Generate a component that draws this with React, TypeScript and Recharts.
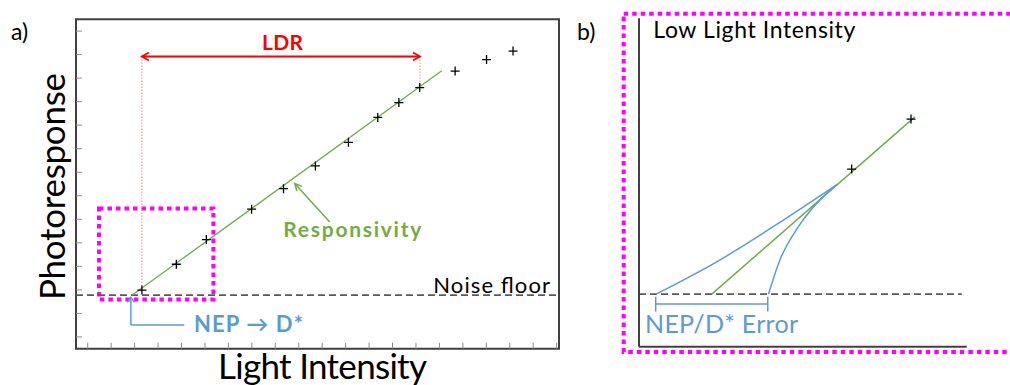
import { ComposedChart, Line, ReferenceArea, ReferenceLine, Scatter, XAxis, YAxis } from "recharts";

// panel a: unit = one tick step
const xTicksA = [0.5, 1.5, 2.5, 3.5, 4.5, 5.5, 6.5, 7.5, 8.5, 9.5, 10.5, 11.5, 12.5, 13.5, 14.5, 15.5, 16.5, 17.5, 18.5, 19.5, 20.5];
const yTicksA = [0.5, 1.5, 2.5, 3.5, 4.5, 5.5, 6.5, 7.5, 8.5, 9.5, 10.5, 11.5, 12.5, 13.5];

const measuredA = [
  { x: 2.81, y: 2.49 },
  { x: 4.28, y: 3.59 },
  { x: 5.56, y: 4.64 },
  { x: 7.49, y: 5.93 },
  { x: 8.85, y: 6.8 },
  { x: 10.21, y: 7.77 },
  { x: 11.62, y: 8.77 },
  { x: 12.87, y: 9.83 },
  { x: 13.77, y: 10.46 },
  { x: 14.66, y: 11.1 },
  { x: 16.17, y: 11.8 },
  { x: 17.51, y: 12.29 },
  { x: 18.64, y: 12.65 },
];
const responsivityA = [{ x: 2.4, y: 2.28 }, { x: 15.6, y: 11.81 }];
const noiseFloorA = 2.28;
const ldrA = [{ x: 2.81, y: 12.42 }, { x: 14.67, y: 12.42 }];
const ldrDropLeft = [{ x: 2.81, y: 12.42 }, { x: 2.81, y: 2.62 }];
const ldrDropRight = [{ x: 14.67, y: 12.42 }, { x: 14.67, y: 11.2 }];
const respArrow = [{ x: 10.82, y: 5.38 }, { x: 9.33, y: 7.02 }];
const nepUp = [{ x: 2.34, y: 1.01 }, { x: 2.34, y: 2.18 }];
const nepAcross = [{ x: 2.34, y: 1.01 }, { x: 4.62, y: 1.01 }];
const zoomBoxA = { x1: 0.98, x2: 5.86, y1: 2.09, y2: 5.96 };

// panel b: 0-100 on both axes
const measuredB = [{ x: 64.9, y: 54.1 }, { x: 83.0, y: 69.3 }];
const responsivityB = [{ x: 22.2, y: 16 }, { x: 84.2, y: 70 }];
const noiseFloorB = [{ x: 0, y: 16 }, { x: 98.5, y: 16 }];
const lowCurve = [
  { x: 5.2, y: 16 },
  { x: 24, y: 26.0 },
  { x: 44, y: 38.5 },
  { x: 60.5, y: 49.4 },
];
const highCurve = [
  { x: 39.5, y: 16 },
  { x: 43.0, y: 26.4 },
  { x: 48.6, y: 36.5 },
  { x: 57.3, y: 46.7 },
  { x: 60.5, y: 49.4 },
];
const errorBar = [{ x: 5.1, y: 13 }, { x: 39.3, y: 13 }];
const errorCapL = [{ x: 5.1, y: 15.2 }, { x: 5.1, y: 10.7 }];
const errorCapR = [{ x: 39.3, y: 15.2 }, { x: 39.3, y: 10.7 }];
const frameB = { x1: -4.67, x2: 115, y1: -1.61, y2: 101.4 };

const BLUE = "#5B9BD5";
const GREEN = "#70AD47";
const RED = "#FF0000";
const PINK = "#FF00FF";
const FONT = "Lato, 'DejaVu Sans', sans-serif";

const noTick = () => <g />;

function chevron(tx: number, ty: number, fx: number, fy: number, len: number, half: number) {
  const d = Math.hypot(tx - fx, ty - fy) || 1;
  const ux = (tx - fx) / d;
  const uy = (ty - fy) / d;
  const bx = tx - ux * len;
  const by = ty - uy * len;
  return `${bx - uy * half},${by + ux * half} ${tx},${ty} ${bx + uy * half},${by - ux * half}`;
}

function arrowShape(color: string, width: number, heads: "start" | "end" | "both", len = 7, half = 4) {
  return (p: any) => {
    const { x1, y1, x2, y2 } = p;
    return (
      <g>
        <line x1={x1} y1={y1} x2={x2} y2={y2} stroke={color} strokeWidth={width} />
        {heads !== "end" && (
          <polyline points={chevron(x1, y1, x2, y2, len, half)} fill="none" stroke={color} strokeWidth={width} />
        )}
        {heads !== "start" && (
          <polyline points={chevron(x2, y2, x1, y1, len, half)} fill="none" stroke={color} strokeWidth={width} />
        )}
      </g>
    );
  };
}

const plus = (size: number) => (p: any) => {
  const { cx, cy } = p;
  return (
    <path d={`M${cx - size},${cy}h${size * 2}M${cx},${cy - size}v${size * 2}`} stroke="#000" strokeWidth={1.3} />
  );
};

function PanelA() {
  return (
    <ComposedChart width={580} height={385} margin={{ top: 19.3, left: 76, right: 21, bottom: 36.3 }}>
      <XAxis
        type="number"
        dataKey="x"
        domain={[0, 20.6]}
        allowDataOverflow
        ticks={xTicksA}
        interval={0}
        height={1}
        mirror
        tick={noTick}
        axisLine={false}
        tickSize={6}
        tickLine={{ stroke: "#8c8c8c" }}
      />
      <YAxis
        type="number"
        domain={[0, 14]}
        allowDataOverflow
        ticks={yTicksA}
        interval={0}
        width={1}
        mirror
        tick={noTick}
        axisLine={false}
        tickSize={6}
        tickLine={{ stroke: "#8c8c8c" }}
      />
      <ReferenceArea x1={0} x2={20.6} y1={0} y2={14} fill="none" stroke="#404040" strokeWidth={2} />
      <ReferenceLine y={noiseFloorA} stroke="#595959" strokeWidth={1.8} strokeDasharray="7 4" />
      <ReferenceLine segment={ldrDropLeft} stroke="#ff8a8a" strokeWidth={1} strokeDasharray="1.5 1.5" />
      <ReferenceLine segment={ldrDropRight} stroke="#ff8a8a" strokeWidth={1} strokeDasharray="1.5 1.5" />
      <ReferenceLine segment={ldrA} shape={arrowShape(RED, 1.8, "both")} />
      <ReferenceLine segment={responsivityA} stroke={GREEN} strokeWidth={1.3} />
      <ReferenceLine segment={respArrow} shape={arrowShape(GREEN, 1.5, "end", 7, 3.5)} />
      <ReferenceLine segment={nepUp} shape={arrowShape(BLUE, 1.5, "end", 5, 3.5)} />
      <ReferenceLine segment={nepAcross} stroke={BLUE} strokeWidth={1.5} />
      <ReferenceArea {...zoomBoxA} fill="none" stroke={PINK} strokeWidth={4} strokeDasharray="4.5 4" ifOverflow="visible" />
      <Scatter data={measuredA} dataKey="y" shape={plus(4.5)} isAnimationActive={false} />
    </ComposedChart>
  );
}

function PanelB() {
  return (
    <ComposedChart width={410} height={385} margin={{ top: 18.3, left: 38, right: 43.3, bottom: 37.3 }}>
      <XAxis
        type="number"
        dataKey="x"
        domain={[0, 100]}
        allowDataOverflow
        height={1}
        tick={noTick}
        tickLine={false}
        axisLine={{ stroke: "#404040", strokeWidth: 2 }}
      />
      <YAxis
        type="number"
        domain={[0, 100]}
        allowDataOverflow
        width={1}
        tick={noTick}
        tickLine={false}
        axisLine={{ stroke: "#404040", strokeWidth: 2 }}
      />
      <ReferenceArea {...frameB} fill="none" stroke={PINK} strokeWidth={4} strokeDasharray="4.5 4" ifOverflow="visible" />
      <ReferenceLine segment={noiseFloorB} stroke="#595959" strokeWidth={1.8} strokeDasharray="7 4" />
      <ReferenceLine segment={responsivityB} stroke={GREEN} strokeWidth={1.5} />
      <ReferenceLine segment={errorBar} stroke={BLUE} strokeWidth={1.5} />
      <ReferenceLine segment={errorCapL} stroke={BLUE} strokeWidth={1.5} />
      <ReferenceLine segment={errorCapR} stroke={BLUE} strokeWidth={1.5} />
      <Line data={lowCurve} dataKey="y" type="monotone" stroke={BLUE} strokeWidth={1.5} dot={false} isAnimationActive={false} />
      <Line data={highCurve} dataKey="y" type="monotone" stroke={BLUE} strokeWidth={1.5} dot={false} isAnimationActive={false} />
      <Scatter data={measuredB} dataKey="y" shape={plus(4.5)} isAnimationActive={false} />
    </ComposedChart>
  );
}

export default function App() {
  return (
    <div style={{ position: "absolute", left: 0, top: 0, width: 1010, height: 385, overflow: "hidden", background: "#fff" }}>
      <div style={{ position: "absolute", left: 0, top: 0 }}>
        <PanelA />
      </div>
      <div style={{ position: "absolute", left: 600, top: 0 }}>
        <PanelB />
      </div>
      <svg width={1010} height={385} style={{ position: "absolute", left: 0, top: 0, pointerEvents: "none" }} fontFamily={FONT}>
        <text x={11} y={40} fontSize={23}>a)</text>
        <text x={577} y={40} fontSize={23}>b)</text>
        <text x={262} y={50} fontSize={21} fontWeight="bold" fill={RED} textLength={41}>LDR</text>
        <text x={283.3} y={236.7} fontSize={21} fontWeight="bold" fill={GREEN} textLength={138}>Responsivity</text>
        <text x={194} y={331.7} fontSize={22} fontWeight="bold" fill={BLUE} textLength={109}>NEP → D*</text>
        <text x={433.3} y={293.3} fontSize={22} textLength={116.7}>Noise floor</text>
        <text x={218} y={379} fontSize={35} textLength={209}>Light Intensity</text>
        <text transform="translate(65,300) rotate(-90)" fontSize={35} textLength={227}>Photoresponse</text>
        <text x={653.3} y={38.3} fontSize={23} textLength={202}>Low Light Intensity</text>
        <text x={645} y={333.3} fontSize={25} fill={BLUE} textLength={153}>NEP/D* Error</text>
      </svg>
    </div>
  );
}
